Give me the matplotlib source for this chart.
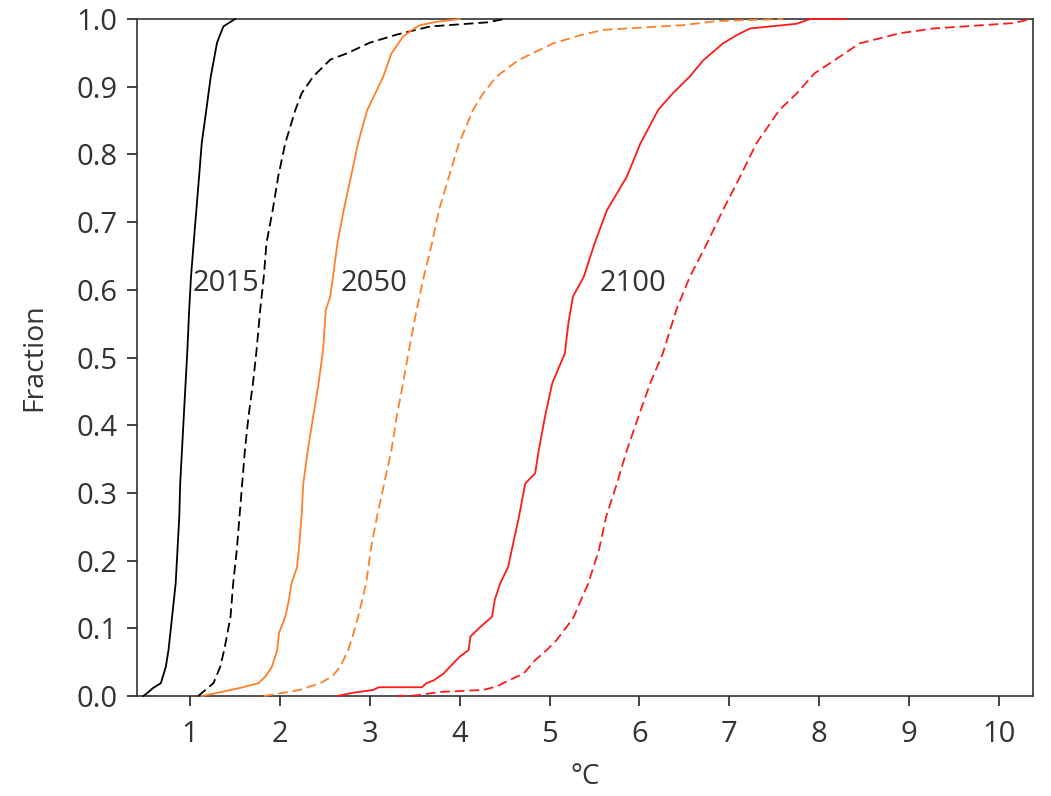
import matplotlib
matplotlib.use("Agg")
import matplotlib.pyplot as plt

plt.rcParams['font.family'] = ['Open Sans', 'DejaVu Sans']
plt.rcParams['lines.scale_dashes'] = False

# warming (deg C) vs cumulative fraction
t2015_solid = [0.48, 0.52, 0.59, 0.675, 0.73, 0.76, 0.80, 0.84, 0.86, 0.88, 0.89, 0.91, 0.93,
               0.95, 0.97, 0.99, 1.01, 1.04, 1.07, 1.10, 1.13, 1.18, 1.23, 1.30, 1.37, 1.50]
f2015_solid = [0.0, 0.004, 0.012, 0.019, 0.043, 0.068, 0.117, 0.167, 0.216, 0.265, 0.314, 0.363, 0.413,
               0.462, 0.511, 0.570, 0.619, 0.669, 0.718, 0.767, 0.817, 0.865, 0.915, 0.965, 0.989, 1.0]

t2015_dash = [1.09, 1.26, 1.335, 1.38, 1.45, 1.48, 1.52, 1.55, 1.58, 1.61, 1.65, 1.70, 1.74, 1.78,
              1.82, 1.85, 1.92, 1.98, 2.06, 2.17, 2.24, 2.37, 2.56, 2.74, 3.00, 3.30, 3.67, 4.30, 4.50]
f2015_dash = [0.0, 0.019, 0.043, 0.068, 0.117, 0.167, 0.216, 0.265, 0.314, 0.363, 0.413, 0.462, 0.511, 0.570,
              0.619, 0.669, 0.718, 0.767, 0.817, 0.865, 0.890, 0.915, 0.940, 0.949, 0.965, 0.977, 0.989, 0.995, 1.0]

t2050_solid = [1.13, 1.28, 1.45, 1.56, 1.76, 1.84, 1.91, 1.97, 1.99, 2.06, 2.10, 2.13, 2.19, 2.21, 2.24,
               2.26, 2.31, 2.37, 2.43, 2.48, 2.51, 2.56, 2.59, 2.64, 2.71, 2.79, 2.87, 2.97, 3.15, 3.24,
               3.37, 3.47, 3.56, 3.75, 4.00]
f2050_solid = [0.0, 0.004, 0.009, 0.012, 0.019, 0.029, 0.043, 0.068, 0.093, 0.117, 0.142, 0.167, 0.190, 0.216, 0.265,
               0.314, 0.363, 0.413, 0.462, 0.511, 0.570, 0.590, 0.619, 0.669, 0.718, 0.767, 0.817, 0.865, 0.915, 0.949,
               0.974, 0.984, 0.991, 0.996, 1.0]

t2050_dash = [1.82, 2.00, 2.22, 2.45, 2.58, 2.67, 2.76, 2.82, 2.87, 2.96, 3.01, 3.08, 3.16, 3.24, 3.30,
              3.37, 3.43, 3.52, 3.60, 3.69, 3.77, 3.88, 3.99, 4.15, 4.26, 4.41, 4.65, 5.04, 5.34, 5.60,
              6.49, 6.86, 7.60]
f2050_dash = [0.0, 0.004, 0.009, 0.019, 0.029, 0.043, 0.068, 0.093, 0.117, 0.167, 0.216, 0.265, 0.314, 0.363, 0.413,
              0.462, 0.507, 0.570, 0.619, 0.668, 0.718, 0.767, 0.816, 0.866, 0.890, 0.915, 0.939, 0.964, 0.976, 0.984,
              0.991, 0.997, 1.0]

t2100_solid = [2.63, 2.82, 3.04, 3.10, 3.58, 3.63, 3.71, 3.82, 3.89, 4.00, 4.10, 4.12, 4.23, 4.36, 4.39,
               4.45, 4.54, 4.58, 4.66, 4.73, 4.84, 4.88, 4.95, 5.03, 5.17, 5.21, 5.26, 5.38, 5.50, 5.64,
               5.86, 6.01, 6.21, 6.37, 6.56, 6.71, 6.93, 7.08, 7.23, 7.75, 7.90, 8.29]
f2100_solid = [0.0, 0.005, 0.009, 0.013, 0.013, 0.019, 0.023, 0.033, 0.043, 0.058, 0.068, 0.088, 0.102, 0.117, 0.142,
               0.166, 0.191, 0.216, 0.265, 0.314, 0.329, 0.363, 0.413, 0.462, 0.506, 0.551, 0.590, 0.619, 0.668, 0.718,
               0.767, 0.816, 0.866, 0.890, 0.915, 0.939, 0.964, 0.976, 0.986, 0.993, 1.0, 1.0]

t2100_dash = [3.30, 3.52, 3.78, 4.26, 4.41, 4.56, 4.71, 4.84, 4.97, 5.08, 5.19, 5.27, 5.35, 5.43, 5.49,
              5.55, 5.63, 5.75, 5.86, 5.99, 6.12, 6.26, 6.41, 6.56, 6.75, 6.93, 7.12, 7.30, 7.56, 7.75,
              7.95, 8.17, 8.45, 8.90, 9.27, 9.83, 10.16, 10.36]
f2100_dash = [0.0, 0.001, 0.006, 0.009, 0.014, 0.024, 0.033, 0.053, 0.068, 0.083, 0.102, 0.117, 0.142, 0.166, 0.191,
              0.216, 0.265, 0.314, 0.363, 0.413, 0.462, 0.506, 0.570, 0.619, 0.668, 0.718, 0.767, 0.816, 0.866, 0.890,
              0.920, 0.939, 0.964, 0.979, 0.986, 0.991, 0.994, 1.0]

year_labels = ["2015", "2050", "2100"]
label_x = [1.03, 2.67, 5.56]
label_y = 0.61

x_ticks = [1, 2, 3, 4, 5, 6, 7, 8, 9, 10]
y_ticks = [0.0, 0.1, 0.2, 0.3, 0.4, 0.5, 0.6, 0.7, 0.8, 0.9, 1.0]

black = "#000000"
orange = "#ff7f27"
red = "#ff1a1a"
dash = (0, (7, 3.5))
txt = "#333333"

fig = plt.figure(figsize=(10.51, 7.96), dpi=100)
ax = fig.add_axes([0.1304, 0.1256, 0.8525, 0.8505])

curves = [
    (t2015_solid, f2015_solid, black, "-"),
    (t2015_dash, f2015_dash, black, dash),
    (t2050_solid, f2050_solid, orange, "-"),
    (t2050_dash, f2050_dash, orange, dash),
    (t2100_solid, f2100_solid, red, "-"),
    (t2100_dash, f2100_dash, red, dash),
]
for t, f, c, ls in curves:
    ax.plot(t, f, color=c, linestyle=ls, lw=1.3, zorder=3, clip_on=False)

for lab, lx in zip(year_labels, label_x):
    ax.text(lx, label_y, lab, fontsize=21, color=txt, ha="left", va="center", zorder=4)

ax.set_xlim(0.41, 10.38)
ax.set_ylim(0, 1)
ax.set_xticks(x_ticks)
ax.set_yticks(y_ticks)
ax.set_yticklabels([f"{v:.1f}" for v in y_ticks])
ax.tick_params(axis="both", direction="out", length=7, width=1.2, colors="#222222",
               labelsize=21, labelcolor=txt)
ax.tick_params(axis="x", pad=10)
ax.tick_params(axis="y", pad=7)
for s in ax.spines.values():
    s.set_linewidth(1.2)
    s.set_color("#333333")

ax.set_ylabel("Fraction", fontsize=20.5, color=txt, labelpad=20)
ax.set_xlabel("°C", fontsize=20, color=txt, labelpad=10)

fig.savefig("out.png", dpi=100)
